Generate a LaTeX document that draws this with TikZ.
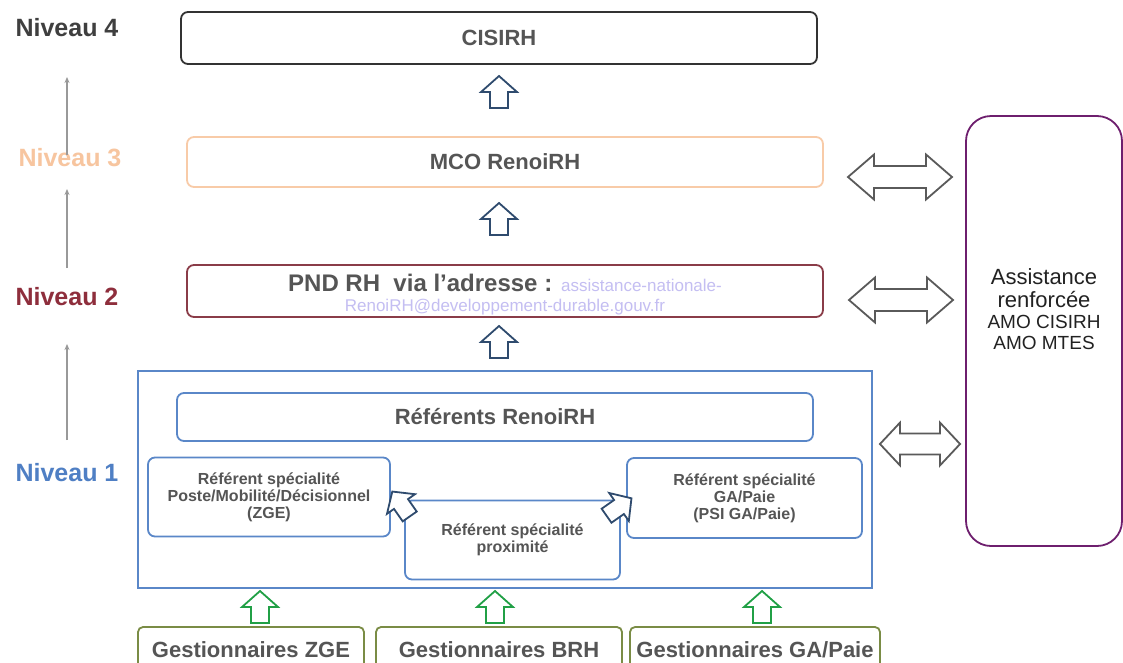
\documentclass[tikz,border=0pt]{standalone}
\usepackage{fontspec}
\setmainfont{Liberation Sans}
\usetikzlibrary{arrows.meta}
\definecolor{txtgray}{HTML}{555555}
\definecolor{niv4}{HTML}{3F3F3F}
\definecolor{niv3}{HTML}{F7C59F}
\definecolor{niv2}{HTML}{8E2E3C}
\definecolor{niv1}{HTML}{4F7FC4}
\definecolor{bxblack}{HTML}{333333}
\definecolor{bxorange}{HTML}{F8CBA8}
\definecolor{bxred}{HTML}{8A3C48}
\definecolor{bxblue}{HTML}{5A87C8}
\definecolor{bxpurple}{HTML}{6E1F6E}
\definecolor{bxolive}{HTML}{7A8C45}
\definecolor{arrblue}{HTML}{2F4B6E}
\definecolor{arrgreen}{HTML}{21A046}
\definecolor{arrgray}{HTML}{5A5A5A}
\definecolor{mailcol}{HTML}{C4BEF2}
\definecolor{lvlarrow}{HTML}{999999}
\definecolor{assisttxt}{HTML}{222222}
\tikzset{
  box/.style={draw, rounded corners=7pt, line width=1.8pt, inner sep=0pt, fill=white,
    text=txtgray, font=\bfseries\fontsize{22}{24}\selectfont, align=center},
  smallbox/.style={box, draw=bxblue, font=\bfseries\fontsize{16}{17}\selectfont},
  gestbox/.style={box, draw=bxolive, rounded corners=5pt, minimum height=46pt},
  lvl/.style={font=\bfseries\fontsize{25}{27}\selectfont, inner sep=0pt},
  lvlarr/.style={draw=lvlarrow, line width=1.1pt, -{Stealth[length=6pt,width=5pt]}},
  uparr/.pic={\draw[line width=1.8pt, fill=white, line join=miter]
     (-9,16) -- (-9,0) -- (-18,0) -- (0,-16) -- (18,0) -- (9,0) -- (9,16) -- cycle;},
  dblarr/.pic={\draw[line width=1.8pt, fill=white, line join=miter]
     (-52,0) -- (-26,-22.5) -- (-26,-11) -- (26,-11) -- (26,-22.5) -- (52,0)
     -- (26,22.5) -- (26,11) -- (-26,11) -- (-26,22.5) -- cycle;},
}
\begin{document}
\begin{tikzpicture}[x=1pt,y=-1pt]
\useasboundingbox (0,0) rectangle (1123,662);
\fill[white] (0,0) rectangle (1123,662);

% level labels
\node[lvl, text=niv4] (n4) at (67,28) {Niveau 4};
\node[lvl, text=niv3] (n3) at (70,158) {Niveau 3};
\node[lvl, text=niv2] (n2) at (67,297) {Niveau 2};
\node[lvl, text=niv1] (n1) at (67,473) {Niveau 1};
\coordinate (a1s) at (67,155); \coordinate (a1e) at (67,77);
\coordinate (a2s) at (67,268); \coordinate (a2e) at (67,189);
\coordinate (a3s) at (67,440); \coordinate (a3e) at (67,344);
\draw[lvlarr] (a1s) -- (a1e);
\draw[lvlarr] (a2s) -- (a2e);
\draw[lvlarr] (a3s) -- (a3e);

% main column
\node[box, draw=bxblack, minimum width=636pt, minimum height=52pt] (cisirh) at (499,38) {CISIRH};
\node[box, draw=bxorange, minimum width=636pt, minimum height=50pt] (mco) at (505,162) {MCO RenoiRH};
\node[box, draw=bxred, minimum width=636pt, minimum height=52pt] (pnd) at (505,291) {};
\node[text=txtgray, align=center, inner sep=0pt, font=\bfseries\fontsize{24}{20}\selectfont] (pndtext) at (505,295)
  {PND RH\ \ via l’adresse : {\mdseries\color{mailcol}\fontsize{17}{20}\selectfont assistance-nationale-}\\
   {\mdseries\color{mailcol}\fontsize{17}{20}\selectfont RenoiRH@developpement-durable.gouv.fr}};

\pic[color=arrblue] at (499,92) {uparr};
\pic[color=arrblue] at (499,219) {uparr};
\pic[color=arrblue] at (499,342) {uparr};

% level 1 frame
\node[draw=bxblue, line width=1.8pt, minimum width=734pt, minimum height=217pt, inner sep=0pt] (lvl1) at (505,479.5) {};
\node[box, draw=bxblue, minimum width=636pt, minimum height=48pt] (refs) at (495,417) {Référents RenoiRH};
\node[smallbox, minimum width=242pt, minimum height=79pt] (zge) at (269,497) {Référent spécialité\\Poste/Mobilité/Décisionnel\\(ZGE)};
\node[smallbox, minimum width=235pt, minimum height=80pt] (ga) at (744.5,498) {Référent spécialité\\GA/Paie\\(PSI GA/Paie)};
\node[smallbox, minimum width=215pt, minimum height=79pt] (prox) at (512.5,540) {Référent spécialité\\proximité};

\pic[color=arrblue, scale=0.95, rotate=35] at (401,504) {uparr};
\pic[color=arrblue, scale=0.95, rotate=-55] at (619,507) {uparr};

% assistance
\node[draw=bxpurple, line width=1.8pt, rounded corners=25pt, minimum width=156pt, minimum height=430pt, inner sep=0pt] (assist) at (1044,331) {};
\node[text=assisttxt, align=center, inner sep=0pt, font=\fontsize{22}{23}\selectfont] (assisttext) at (1044,309)
  {Assistance\\renforcée\\[-2pt]{\fontsize{19}{21}\selectfont AMO CISIRH}\\[-2pt]{\fontsize{19}{21}\selectfont AMO MTES}};

\pic[color=arrgray] at (900,177) {dblarr};
\pic[color=arrgray] at (901,300) {dblarr};
\pic[color=arrgray, xscale=0.77, yscale=0.95] at (920,444) {dblarr};

% gestionnaires
\pic[color=arrgreen] at (260,607) {uparr};
\pic[color=arrgreen] at (495,607) {uparr};
\pic[color=arrgreen] at (762,607) {uparr};
\node[gestbox, minimum width=226pt] (gzge) at (251,650) {Gestionnaires ZGE};
\node[gestbox, minimum width=246pt] (gbrh) at (499,650) {Gestionnaires BRH};
\node[gestbox, minimum width=250pt] (gga) at (755,650) {Gestionnaires GA/Paie};
\end{tikzpicture}
\end{document}
